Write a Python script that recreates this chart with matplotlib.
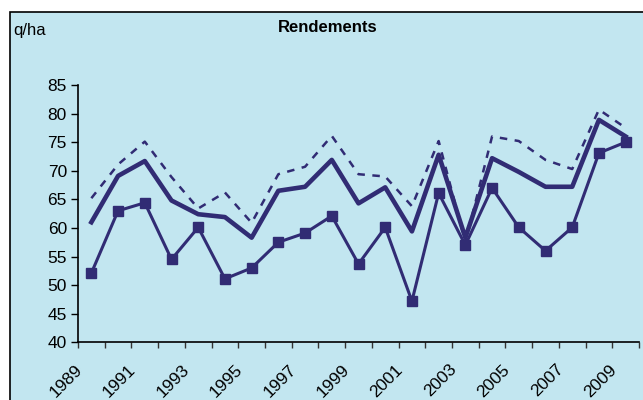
import numpy as np
import matplotlib.pyplot as plt
from matplotlib.patches import Rectangle
from matplotlib.transforms import ScaledTranslation

# years shown on the category axis
years = list(range(1989, 2010))

# three yield series (q/ha)
dashed_vals = [65.2, 71.1, 75.1, 68.9, 63.4, 66.2, 60.9, 69.4, 70.7, 76.1,
               69.4, 69.0, 63.8, 75.2, 57.5, 76.0, 75.2, 71.9, 70.3, 80.7, 77.5]
thick_vals = [61.0, 69.1, 71.7, 64.8, 62.4, 61.9, 58.3, 66.5, 67.2, 71.9,
              64.3, 67.1, 59.4, 72.8, 58.3, 72.2, 69.8, 67.2, 67.2, 78.9, 76.0]
marker_vals = [52.1, 63.0, 64.4, 54.5, 60.1, 51.1, 53.0, 57.5, 59.1, 62.1,
               53.7, 60.1, 47.2, 66.1, 57.0, 67.0, 60.1, 56.0, 60.1, 73.1, 75.0]

bg = "#c2e6f0"
navy = "#312c74"
fonts = ["Liberation Sans", "DejaVu Sans"]

fig = plt.figure(figsize=(6.43, 4.0), dpi=100)
fig.patch.set_facecolor("white")
# blue panel with black frame, running off the right and bottom edges
fig.patches.append(Rectangle((10 / 643, -0.05), 1.1, 1.05 - 12 / 400,
                             transform=fig.transFigure, facecolor=bg,
                             edgecolor="black", linewidth=1.2, zorder=-10))

ax = fig.add_axes([78 / 643, (400 - 342.3) / 400, (639 - 78) / 643, (342.3 - 85) / 400])
ax.set_facecolor("none")

x = np.arange(len(years))
ax.plot(x, dashed_vals, color=navy, lw=1.8, ls=(0, (3, 3)))
ax.plot(x, thick_vals, color=navy, lw=3.3)
ax.plot(x, marker_vals, color=navy, lw=2.2, marker="s", markersize=7)

ax.set_xlim(-0.5, len(years) - 0.5)
ax.set_ylim(40, 85)
ax.set_yticks(range(40, 86, 5))

ax.set_xticks(x[::2])
ax.set_xticklabels([str(y) for y in years[::2]], rotation=45, ha="right", va="top")
ax.set_xticks(np.arange(-0.5, len(years)), minor=True)
ax.tick_params(axis="x", which="major", length=0, pad=14, labelsize=12.5)
ax.tick_params(axis="x", which="minor", length=4, width=1, color="#333333")
ax.tick_params(axis="y", length=5, width=1, pad=3, labelsize=12.5)
for lbl in ax.get_xticklabels():
    lbl.set_transform(lbl.get_transform() + ScaledTranslation(-6 / 100, 0, fig.dpi_scale_trans))

for s in ["top", "right"]:
    ax.spines[s].set_visible(False)
for s in ["left", "bottom"]:
    ax.spines[s].set_linewidth(1.2)

for lbl in ax.get_xticklabels() + ax.get_yticklabels():
    lbl.set_family(fonts)

fig.text(328 / 643, 1 - 28 / 400, "Rendements", ha="center", va="center",
         fontsize=12, fontweight="bold", family=fonts)
fig.text(13 / 643, 1 - 31 / 400, "q/ha", ha="left", va="center",
         fontsize=12, family=fonts)

fig.savefig("out.png", dpi=100, facecolor=fig.get_facecolor())
